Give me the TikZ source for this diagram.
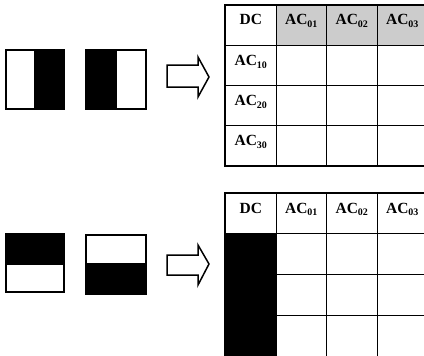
\documentclass[tikz,border=0pt]{standalone}
\usepackage{fontspec}
\setmainfont{Liberation Serif}
\begin{document}
\begin{tikzpicture}[x=1pt,y=-1pt,
  cell/.style={draw=black,line width=1.1pt,minimum width=50.5pt,minimum height=40pt,inner sep=0pt,anchor=north west},
  hdr/.style={cell,fill=gray!40},
  blk/.style={cell,fill=black},
  frame/.style={draw=black,line width=2pt},
  txt/.style={inner sep=0pt,anchor=base,font=\fontsize{15.5}{17}\selectfont\bfseries},
  icon/.style={draw=black,line width=2pt},
  bigarrow/.style={draw=black,line width=1.5pt,line join=miter,fill=white}
]
\newcommand\acidx[1]{\raisebox{-0.4ex}{\fontsize{10}{11}\selectfont #1}}
\useasboundingbox (0,0) rectangle (424,356);
\clip (0,0) rectangle (424,356);

% ---------- upper row: vertical half patterns ----------
\fill[black] (34,50) rectangle (64,109);
\draw[icon] (6,50) rectangle (64,109);
\fill[black] (86,50) rectangle (117,109);
\draw[icon] (86,50) rectangle (146,109);

\draw[bigarrow] (167,65) -- (198,65) -- (198,57) -- (209,77) -- (198,97) -- (198,87) -- (167,87) -- cycle;

% upper table
\node[cell] (a00) at (225,5) {};
\node[hdr] (a01) at (275.5,5) {};
\node[hdr] (a02) at (326,5) {};
\node[hdr] (a03) at (376.5,5) {};
\foreach \r/\y in {1/45,2/84.5,3/124.5}{
  \foreach \c/\x in {0/225,1/275.5,2/326,3/376.5}{
    \node[cell,minimum height=40pt] (a\r\c) at (\x,\y) {};
  }
}
\draw[frame] (a00.north west) rectangle (a33.south east);
\node[txt] (tdc) at ([yshift=-19.5pt]a00.north) {DC};
\node[txt] (t01) at ([yshift=-19.5pt]a01.north) {AC\acidx{01}};
\node[txt] (t02) at ([yshift=-19.5pt]a02.north) {AC\acidx{02}};
\node[txt] (t03) at ([yshift=-19.5pt]a03.north) {AC\acidx{03}};
\node[txt] (t10) at ([yshift=-21pt]a10.north) {AC\acidx{10}};
\node[txt] (t20) at ([yshift=-21pt]a20.north) {AC\acidx{20}};
\node[txt] (t30) at ([yshift=-21pt]a30.north) {AC\acidx{30}};

% ---------- lower row: horizontal half patterns ----------
\fill[black] (6,234) rectangle (64,265);
\draw[icon] (6,234) rectangle (64,292);
\fill[black] (86,263) rectangle (146,294);
\draw[icon] (86,235) rectangle (146,294);

\draw[bigarrow] (167,255) -- (198,255) -- (198,245) -- (209,264) -- (198,285) -- (198,275) -- (167,275) -- cycle;

% lower table
\node[cell] (b00) at (225,193) {};
\node[cell] (b01) at (275.5,193) {};
\node[cell] (b02) at (326,193) {};
\node[cell] (b03) at (376.5,193) {};
\foreach \r/\y in {1/233,2/274,3/315}{
  \node[blk,minimum height=41pt] (b\r0) at (225,\y) {};
  \foreach \c/\x in {1/275.5,2/326,3/376.5}{
    \node[cell,minimum height=41pt] (b\r\c) at (\x,\y) {};
  }
}
\draw[frame] (b00.north west) rectangle (b33.south east);
\node[txt] (udc) at ([yshift=-20pt]b00.north) {DC};
\node[txt] (u01) at ([yshift=-20pt]b01.north) {AC\acidx{01}};
\node[txt] (u02) at ([yshift=-20pt]b02.north) {AC\acidx{02}};
\node[txt] (u03) at ([yshift=-20pt]b03.north) {AC\acidx{03}};
\end{tikzpicture}
\end{document}
